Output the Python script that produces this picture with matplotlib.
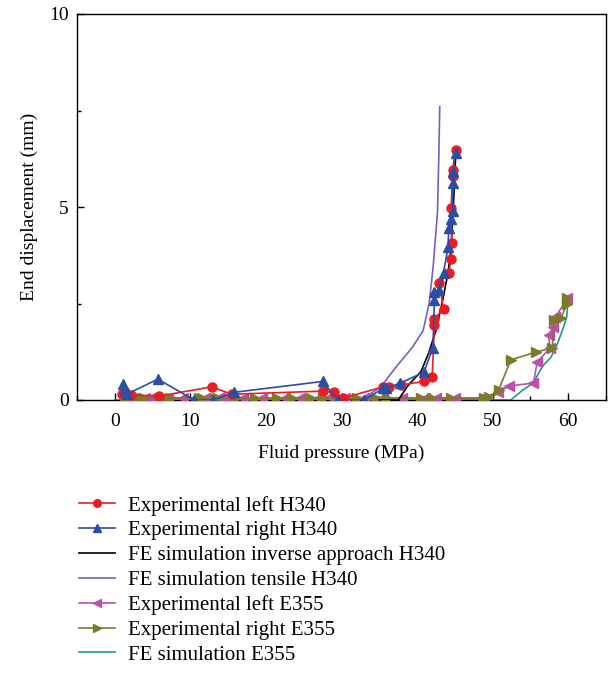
import matplotlib
matplotlib.use("Agg")
import matplotlib.pyplot as plt
from matplotlib.ticker import MultipleLocator

plt.rcParams["font.family"] = ["Liberation Serif", "DejaVu Serif"]

# Experimental left H340
left_h340_x = [1.0, 1.4, 2.2, 5.8, 12.8, 15.5, 27.6, 29.0, 30.2, 35.5, 36.3,
               37.9, 40.9, 42.0, 42.3, 42.3, 43.5, 42.9, 44.2, 44.5, 44.6,
               44.5, 44.7, 44.7, 45.1]
left_h340_y = [0.15, 0.2, 0.13, 0.1, 0.34, 0.15, 0.23, 0.2, 0.05, 0.34, 0.34,
               0.39, 0.48, 0.6, 1.94, 2.1, 2.36, 3.03, 3.3, 3.65, 4.07,
               4.97, 5.8, 5.95, 6.48]

# Experimental right H340
right_h340_x = [1.1, 1.3, 1.6, 5.7, 10.5, 13.0, 15.8, 27.5, 29.5, 33.0, 35.5,
                35.9, 37.8, 40.9, 42.1, 42.3, 42.2, 42.9, 43.5, 44.1, 44.2,
                44.5, 44.7, 44.7, 44.7, 45.1]
right_h340_y = [0.42, 0.27, 0.15, 0.54, 0.0, 0.0, 0.2, 0.48, 0.0, 0.0, 0.3,
                0.3, 0.44, 0.72, 1.35, 2.6, 2.8, 2.85, 3.3, 3.96, 4.45,
                4.7, 4.9, 5.62, 5.9, 6.4]

# FE simulation inverse approach H340
fe_inv_x = [35.0, 37.5, 38.9, 40.5, 41.5, 42.5, 43.4, 44.1, 44.5, 44.9, 45.1]
fe_inv_y = [0.0, 0.0, 0.4, 0.73, 1.2, 1.8, 2.6, 3.3, 3.96, 5.4, 6.3]

# FE simulation tensile H340
fe_ten_x = [30.0, 32.6, 35.2, 37.2, 39.4, 40.8, 41.6, 42.1, 42.7, 42.9, 43.0]
fe_ten_y = [0.0, 0.0, 0.34, 0.85, 1.37, 1.8, 2.5, 3.4, 4.85, 6.5, 7.6]

# Experimental left E355
left_e355_x = [1.5, 2.5, 4.0, 4.6, 7.0, 9.0, 12.0, 13.9, 14.8, 17.0, 19.5,
               22.5, 24.5, 27.0, 28.5, 30.5, 33.0, 35.5, 38.0, 41.0, 42.5,
               45.0, 48.5, 50.7, 52.1, 55.4, 55.9, 57.6, 57.4, 58.0, 58.3,
               59.9]
left_e355_y = [0.05, 0.04, 0.06, 0.05, 0.04, 0.05, 0.06, 0.07, 0.05, 0.04, 0.06,
               0.05, 0.05, 0.06, 0.07, 0.05, 0.04, 0.05, 0.05, 0.06, 0.05,
               0.05, 0.05, 0.2, 0.36, 0.44, 0.98, 1.35, 1.68, 1.9, 2.15,
               2.63]

# Experimental right E355
right_e355_x = [1.3, 1.8, 3.3, 3.8, 6.6, 7.3, 11.1, 11.5, 13.2, 13.7, 16.0,
                18.5, 21.5, 23.5, 26.0, 27.5, 29.5, 32.0, 34.5, 36.0, 40.5,
                42.0, 44.5, 48.8, 49.5, 50.8, 52.4, 55.7, 57.9, 58.1, 59.0,
                59.9, 59.9]
right_e355_y = [0.04, 0.05, 0.06, 0.05, 0.05, 0.06, 0.05, 0.06, 0.06, 0.05, 0.05,
                0.04, 0.06, 0.05, 0.05, 0.06, 0.05, 0.04, 0.06, 0.05, 0.05,
                0.06, 0.05, 0.05, 0.08, 0.26, 1.04, 1.24, 1.35, 2.07, 2.12,
                2.5, 2.63]

# FE simulation E355
fe_e355_x = [0.0, 52.4, 54.0, 55.4, 56.1, 56.7, 57.7, 58.6, 59.4, 59.8, 59.9]
fe_e355_y = [0.0, 0.0, 0.26, 0.44, 0.7, 0.9, 1.1, 1.47, 1.9, 2.15, 2.4]

RED = "#ED1C24"
BLUE = "#2B4EA2"
PURPLE = "#7B5FC0"
MAGENTA = "#BF4FAE"
OLIVE = "#7D7A2A"
TEAL = "#1D9A9A"

fig = plt.figure(figsize=(6.09, 6.73), dpi=100)
ax = fig.add_axes([77 / 609, 1 - 400 / 673, (606 - 77) / 609, (400 - 14) / 673])

ax.plot(fe_e355_x, fe_e355_y, color=TEAL, lw=1.2, label="FE simulation E355", zorder=2)
ax.plot(left_e355_x, left_e355_y, color=MAGENTA, lw=1.2, marker="<", ms=7,
        label="Experimental left E355", zorder=3)
ax.plot(right_e355_x, right_e355_y, color=OLIVE, lw=1.2, marker=">", ms=7,
        label="Experimental right E355", zorder=3)
ax.plot(fe_ten_x, fe_ten_y, color=PURPLE, lw=1.2, label="FE simulation tensile H340", zorder=4)
ax.plot(fe_inv_x, fe_inv_y, color="black", lw=1.2,
        label="FE simulation inverse approach H340", zorder=4)
ax.plot(left_h340_x, left_h340_y, color=RED, lw=1.2, marker="o", ms=6.5,
        label="Experimental left H340", zorder=5)
ax.plot(right_h340_x, right_h340_y, color=BLUE, lw=1.2, marker="^", ms=7,
        label="Experimental right H340", zorder=6)

ax.set_xlim(-5, 65)
ax.set_ylim(0, 10)
ax.set_xticks([0, 10, 20, 30, 40, 50, 60])
ax.set_yticks([0, 5, 10])
ax.xaxis.set_minor_locator(MultipleLocator(5))
ax.yaxis.set_minor_locator(MultipleLocator(2.5))
ax.tick_params(which="major", direction="in", length=5, width=1, labelsize=14)
ax.tick_params(axis="x", which="major", pad=9)
ax.tick_params(axis="y", which="major", pad=6)
ax.tick_params(which="minor", direction="in", length=3, width=1)
for s in ax.spines.values():
    s.set_linewidth(1.0)

ax.set_xlabel("Fluid pressure (MPa)", fontsize=14, labelpad=11)
ax.set_ylabel("End displacement (mm)", fontsize=14, labelpad=8)

order = ["Experimental left H340", "Experimental right H340",
         "FE simulation inverse approach H340", "FE simulation tensile H340",
         "Experimental left E355", "Experimental right E355", "FE simulation E355"]
hs, ls = ax.get_legend_handles_labels()
lookup = dict(zip(ls, hs))
fig.legend([lookup[k] for k in order], order, loc="upper left",
           bbox_to_anchor=(60 / 609, 1 - 477 / 673), frameon=False,
           fontsize=15, handlelength=1.75, handletextpad=0.6,
           labelspacing=0.25, markerscale=0.85)

fig.savefig("out.png", dpi=100)
